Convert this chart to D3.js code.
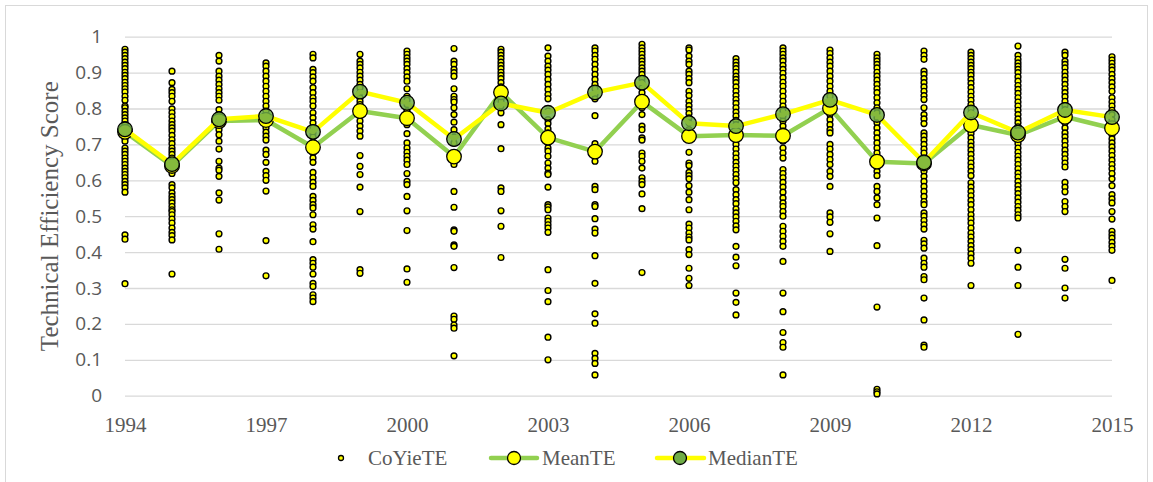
<!DOCTYPE html>
<html>
<head>
<meta charset="utf-8">
<script src="https://cdn.jsdelivr.net/npm/d3@7"></script>
<style>
  html, body { margin: 0; padding: 0; background: #fff; }
  svg { display: block; }
</style>
</head>
<body>
<svg id="chart" width="1153" height="482"></svg>
<script>
const years = [1994,1995,1996,1997,1998,1999,2000,2001,2002,2003,2004,2005,2006,2007,2008,2009,2010,2011,2012,2013,2014,2015];
const xTickLabels = [1994,1997,2000,2003,2006,2009,2012,2015];
const yTickLabels = [0,0.1,0.2,0.3,0.4,0.5,0.6,0.7,0.8,0.9,1];

const meanTE   = [0.735,0.640,0.765,0.768,0.692,0.793,0.773,0.666,0.845,0.719,0.680,0.819,0.723,0.726,0.724,0.801,0.652,0.647,0.754,0.726,0.777,0.745];
const medianTE = [0.742,0.645,0.770,0.779,0.735,0.847,0.816,0.715,0.814,0.788,0.845,0.872,0.759,0.751,0.784,0.824,0.782,0.650,0.789,0.733,0.796,0.776];

const coYieTE = [
 [0.965,0.957,0.948,0.939,0.929,0.920,0.911,0.901,0.892,0.883,0.873,0.864,0.855,0.846,0.834,0.823,0.807,0.802,0.792,0.783,0.774,0.765,0.755,0.746,0.737,0.727,0.718,0.709,0.690,0.681,0.672,0.662,0.653,0.644,0.634,0.625,0.616,0.607,0.597,0.588,0.579,0.567,0.448,0.436,0.312],
 [0.904,0.872,0.853,0.844,0.834,0.820,0.799,0.788,0.777,0.765,0.755,0.746,0.737,0.725,0.713,0.702,0.690,0.681,0.672,0.662,0.653,0.644,0.630,0.619,0.588,0.579,0.565,0.555,0.546,0.537,0.527,0.518,0.513,0.504,0.492,0.481,0.467,0.455,0.446,0.434,0.339],
 [0.948,0.932,0.904,0.890,0.879,0.867,0.855,0.844,0.834,0.823,0.797,0.783,0.769,0.755,0.741,0.727,0.709,0.687,0.653,0.634,0.628,0.611,0.565,0.545,0.451,0.408],
 [0.927,0.918,0.904,0.890,0.876,0.862,0.848,0.834,0.820,0.807,0.793,0.780,0.769,0.758,0.746,0.734,0.723,0.712,0.684,0.672,0.650,0.625,0.613,0.600,0.570,0.432,0.334],
 [0.951,0.941,0.909,0.900,0.888,0.876,0.858,0.844,0.830,0.820,0.807,0.788,0.774,0.760,0.746,0.732,0.721,0.704,0.690,0.676,0.662,0.650,0.622,0.607,0.594,0.583,0.555,0.544,0.532,0.523,0.504,0.476,0.464,0.429,0.379,0.369,0.358,0.339,0.313,0.304,0.281,0.272,0.262],
 [0.951,0.932,0.923,0.913,0.901,0.890,0.879,0.867,0.858,0.844,0.830,0.820,0.811,0.797,0.780,0.765,0.751,0.737,0.723,0.669,0.639,0.616,0.581,0.513,0.351,0.341],
 [0.960,0.951,0.941,0.932,0.923,0.911,0.900,0.888,0.876,0.855,0.834,0.823,0.811,0.793,0.777,0.755,0.730,0.704,0.690,0.678,0.667,0.656,0.644,0.619,0.597,0.588,0.555,0.515,0.460,0.353,0.316],
 [0.967,0.932,0.923,0.909,0.900,0.890,0.855,0.834,0.825,0.818,0.802,0.783,0.762,0.741,0.721,0.704,0.653,0.644,0.569,0.525,0.462,0.458,0.420,0.416,0.357,0.222,0.213,0.197,0.188,0.111],
 [0.965,0.957,0.948,0.939,0.929,0.920,0.911,0.901,0.892,0.883,0.872,0.860,0.848,0.839,0.830,0.820,0.807,0.788,0.755,0.688,0.579,0.569,0.515,0.472,0.385],
 [0.969,0.946,0.932,0.918,0.907,0.895,0.881,0.867,0.853,0.839,0.827,0.793,0.769,0.758,0.743,0.732,0.718,0.704,0.690,0.681,0.667,0.648,0.634,0.620,0.616,0.581,0.532,0.526,0.518,0.495,0.486,0.476,0.467,0.455,0.351,0.293,0.262,0.163,0.100],
 [0.969,0.960,0.948,0.937,0.923,0.909,0.895,0.881,0.867,0.855,0.839,0.827,0.780,0.702,0.653,0.583,0.574,0.532,0.527,0.493,0.464,0.453,0.390,0.313,0.228,0.202,0.118,0.104,0.090,0.058],
 [0.979,0.969,0.960,0.951,0.941,0.932,0.923,0.913,0.904,0.895,0.883,0.872,0.858,0.844,0.830,0.818,0.802,0.783,0.751,0.741,0.718,0.712,0.676,0.667,0.653,0.634,0.607,0.597,0.588,0.562,0.521,0.343],
 [0.969,0.963,0.946,0.932,0.923,0.904,0.895,0.883,0.872,0.848,0.836,0.820,0.808,0.797,0.786,0.774,0.760,0.741,0.723,0.678,0.648,0.641,0.622,0.613,0.604,0.585,0.567,0.546,0.518,0.478,0.467,0.453,0.442,0.434,0.407,0.393,0.355,0.327,0.307],
 [0.939,0.929,0.920,0.911,0.901,0.890,0.881,0.872,0.860,0.848,0.836,0.825,0.814,0.802,0.790,0.779,0.767,0.755,0.741,0.727,0.713,0.700,0.687,0.674,0.662,0.650,0.639,0.628,0.616,0.604,0.593,0.574,0.560,0.546,0.535,0.520,0.509,0.498,0.486,0.473,0.462,0.416,0.386,0.362,0.286,0.260,0.225],
 [0.969,0.960,0.951,0.941,0.932,0.920,0.909,0.898,0.886,0.873,0.862,0.848,0.834,0.820,0.807,0.793,0.779,0.765,0.751,0.737,0.723,0.709,0.690,0.676,0.662,0.630,0.619,0.607,0.594,0.581,0.567,0.551,0.537,0.527,0.513,0.500,0.472,0.458,0.444,0.430,0.416,0.374,0.286,0.234,0.176,0.148,0.135,0.058],
 [0.963,0.953,0.941,0.929,0.918,0.904,0.890,0.876,0.862,0.848,0.834,0.820,0.802,0.783,0.769,0.755,0.741,0.732,0.700,0.687,0.672,0.658,0.644,0.625,0.611,0.583,0.509,0.498,0.483,0.451,0.402],
 [0.951,0.941,0.932,0.923,0.913,0.901,0.890,0.879,0.867,0.855,0.844,0.830,0.816,0.802,0.788,0.774,0.760,0.746,0.732,0.718,0.704,0.690,0.676,0.662,0.648,0.637,0.625,0.613,0.583,0.569,0.551,0.532,0.495,0.418,0.247,0.018,0.011,0.005],
 [0.960,0.948,0.937,0.904,0.895,0.883,0.872,0.860,0.848,0.836,0.825,0.802,0.783,0.771,0.758,0.732,0.723,0.712,0.700,0.687,0.676,0.662,0.650,0.637,0.625,0.611,0.597,0.583,0.569,0.555,0.541,0.532,0.509,0.500,0.488,0.476,0.464,0.433,0.423,0.411,0.383,0.369,0.358,0.332,0.323,0.272,0.211,0.141,0.135],
 [0.957,0.948,0.939,0.929,0.920,0.911,0.901,0.892,0.881,0.870,0.858,0.846,0.834,0.823,0.811,0.799,0.788,0.777,0.765,0.753,0.741,0.730,0.718,0.706,0.695,0.684,0.672,0.660,0.648,0.637,0.625,0.613,0.593,0.581,0.569,0.557,0.544,0.532,0.518,0.504,0.492,0.481,0.467,0.453,0.442,0.430,0.418,0.407,0.395,0.383,0.369,0.307],
 [0.974,0.948,0.937,0.927,0.918,0.909,0.900,0.888,0.876,0.864,0.853,0.842,0.830,0.818,0.807,0.795,0.783,0.771,0.760,0.749,0.737,0.725,0.713,0.702,0.690,0.678,0.667,0.656,0.644,0.632,0.620,0.609,0.597,0.585,0.574,0.563,0.551,0.539,0.527,0.516,0.504,0.495,0.405,0.358,0.307,0.171],
 [0.957,0.948,0.932,0.923,0.913,0.901,0.890,0.879,0.867,0.855,0.844,0.833,0.820,0.808,0.797,0.783,0.771,0.760,0.746,0.732,0.721,0.709,0.697,0.684,0.672,0.660,0.648,0.637,0.594,0.581,0.568,0.541,0.527,0.513,0.380,0.355,0.300,0.272],
 [0.944,0.935,0.926,0.916,0.907,0.895,0.883,0.872,0.860,0.848,0.830,0.818,0.807,0.795,0.783,0.769,0.755,0.741,0.727,0.715,0.704,0.693,0.681,0.669,0.656,0.644,0.632,0.619,0.604,0.585,0.560,0.548,0.537,0.513,0.492,0.458,0.448,0.439,0.427,0.416,0.405,0.321]
];

const yAxisTitle = "Technical Efficiency Score";
const seriesNames = ["CoYieTE", "MeanTE", "MedianTE"];

const svg = d3.select("#chart");
const plot = { left: 125, right: 1112, top: 36.7, bottom: 395.7 };

const x = d3.scaleLinear().domain([1994, 2015]).range([plot.left, plot.right]);
const y = d3.scaleLinear().domain([0, 1]).range([plot.bottom, plot.top]);

const grey = "#595959";
const meanColor = "#92d050";
const medianLine = "#ffff00";
const medianFill = "#70ad47";
const serif = "'Liberation Serif', 'Times New Roman', serif";

// chart frame
svg.append("rect").attr("x", 5.5).attr("y", 5.5).attr("width", 1142).attr("height", 492)
  .attr("fill", "#fff").attr("stroke", "#d9d9d9").attr("stroke-width", 1);

// gridlines + y labels
const yAxis = d3.axisLeft(y).tickValues(yTickLabels).tickSize(-(plot.right - plot.left)).tickPadding(23)
  .tickFormat(d => d3.format("")(d));
const gy = svg.append("g").attr("transform", `translate(${plot.left},0)`).call(yAxis);
gy.select(".domain").remove();
gy.selectAll(".tick line").attr("stroke", "#d9d9d9").attr("stroke-width", 1.3);
gy.selectAll(".tick text").attr("fill", grey).attr("font-family", "'Open Sans', sans-serif")
  .attr("font-size", 19);

// x axis labels
const xAxis = d3.axisBottom(x).tickValues(xTickLabels).tickSize(0).tickPadding(21).tickFormat(d3.format("d"));
const gx = svg.append("g").attr("transform", `translate(0,${plot.bottom})`).call(xAxis);
gx.select(".domain").remove();
gx.selectAll(".tick text").attr("fill", grey).attr("font-family", serif).attr("font-size", 21);

// y axis title
svg.append("text").attr("transform", `translate(58,${(plot.top + plot.bottom) / 2}) rotate(-90)`)
  .attr("text-anchor", "middle").attr("fill", grey)
  .attr("font-family", serif).attr("font-size", 25)
  .text(yAxisTitle);

// scatter
const pts = [];
years.forEach((yr, i) => coYieTE[i].forEach(v => pts.push({ yr, v })));
svg.append("g").selectAll("circle").data(pts).join("circle")
  .attr("cx", d => x(d.yr)).attr("cy", d => y(d.v)).attr("r", 2.9)
  .attr("fill", "#ffff00").attr("stroke", "#000").attr("stroke-width", 1.4);

const line = d3.line().x((d, i) => x(years[i])).y(d => y(d));

// mean series
svg.append("path").datum(meanTE).attr("d", line).attr("fill", "none")
  .attr("stroke", meanColor).attr("stroke-width", 4.5).attr("stroke-linejoin", "round");
svg.append("g").selectAll("circle").data(meanTE).join("circle")
  .attr("cx", (d, i) => x(years[i])).attr("cy", d => y(d)).attr("r", 7.3)
  .attr("fill", "#ffff00").attr("stroke", "#000").attr("stroke-width", 1.3);

// median series
svg.append("path").datum(medianTE).attr("d", line).attr("fill", "none")
  .attr("stroke", medianLine).attr("stroke-width", 4.5).attr("stroke-linejoin", "round");
svg.append("g").selectAll("circle").data(medianTE).join("circle")
  .attr("cx", (d, i) => x(years[i])).attr("cy", d => y(d)).attr("r", 7.3)
  .attr("fill", medianFill).attr("fill-opacity", 0.85).attr("stroke", "#000").attr("stroke-width", 1.3);

// legend
const ly = 458;
const lg = svg.append("g");
lg.append("circle").attr("cx", 341).attr("cy", ly).attr("r", 2.5)
  .attr("fill", "#ffff00").attr("stroke", "#000").attr("stroke-width", 1.3);
lg.append("text").attr("x", 368).attr("y", ly + 7).attr("fill", grey)
  .attr("font-family", serif).attr("font-size", 21).text(seriesNames[0]);

lg.append("line").attr("x1", 491).attr("x2", 537).attr("y1", ly).attr("y2", ly)
  .attr("stroke", meanColor).attr("stroke-width", 4.5).attr("stroke-linecap", "round");
lg.append("circle").attr("cx", 514).attr("cy", ly).attr("r", 6.5)
  .attr("fill", "#ffff00").attr("stroke", "#000").attr("stroke-width", 1.3);
lg.append("text").attr("x", 542).attr("y", ly + 7).attr("fill", grey)
  .attr("font-family", serif).attr("font-size", 21).text(seriesNames[1]);

lg.append("line").attr("x1", 657).attr("x2", 704).attr("y1", ly).attr("y2", ly)
  .attr("stroke", medianLine).attr("stroke-width", 4.5).attr("stroke-linecap", "round");
lg.append("circle").attr("cx", 680).attr("cy", ly).attr("r", 6.5)
  .attr("fill", medianFill).attr("stroke", "#000").attr("stroke-width", 1.3);
lg.append("text").attr("x", 708).attr("y", ly + 7).attr("fill", grey)
  .attr("font-family", serif).attr("font-size", 21).text(seriesNames[2]);
</script>
</body>
</html>
